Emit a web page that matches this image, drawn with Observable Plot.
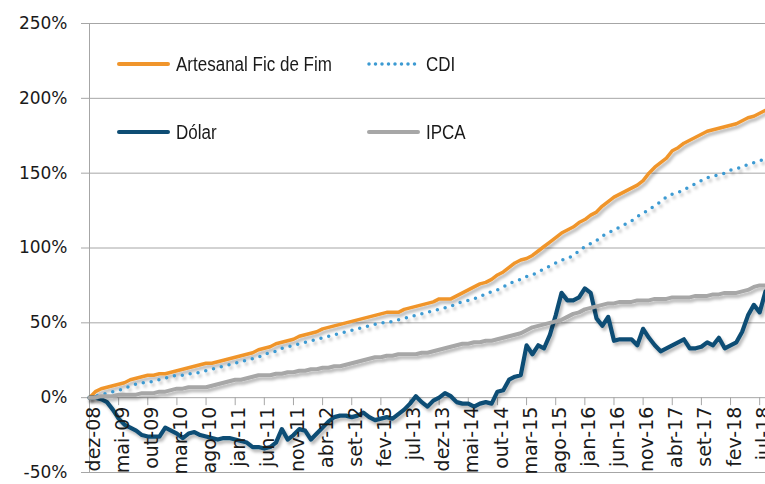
<!DOCTYPE html>
<html><head><meta charset="utf-8">
<script src="https://cdn.jsdelivr.net/npm/d3@7"></script>
<script src="https://cdn.jsdelivr.net/npm/@observablehq/plot@0.6"></script>
<style>
body{margin:0;background:#fff;}
#wrap{position:relative;width:765px;height:484px;overflow:hidden;background:#fff;}
.leg{position:absolute;display:flex;align-items:center;height:24px;font-family:"Liberation Sans",Arial,sans-serif;font-size:20px;color:#1a1a1a;white-space:nowrap;}
.leg svg{display:block;margin-right:6px;}
.leg span{display:inline-block;transform:scaleX(0.85);transform-origin:0 50%;}
</style></head><body><div id="wrap"></div>
<script>
// Monthly cumulative returns (%), dez-08 .. ago-18
const artesanal = [0,4,6,7,8,9,10,12,13,14,
15,15,16,16,17,18,19,20,21,22,
23,23,24,25,26,27,28,29,30,32,
33,34,36,37,38,39,41,42,43,44,
46,47,48,49,50,51,52,53,54,55,
56,57,57,57,59,60,61,62,63,64,
66,66,66,68,70,72,74,76,77,79,
82,84,87,90,92,93,95,98,101,104,
107,110,112,114,117,119,122,124,128,131,
134,136,138,140,142,145,150,154,157,160,
165,167,170,172,174,176,178,179,180,181,
182,183,185,187,188,190,192];
const cdi = [0,1,2,3,4,5,6,8,9,10,
10,11,12,13,14,15,15,16,16,17,
18,19,20,21,22,23,24,25,26,27,
29,30,31,33,34,35,36,37,38,39,
40,41,42,43,44,45,46,47,48,49,
50,50,51,52,53,54,55,56,57,58,
59,60,61,63,64,65,66,68,69,71,
72,74,76,78,79,81,82,84,86,88,
90,92,93,95,98,101,103,105,108,110,
112,114,116,118,121,123,126,128,131,134,
136,137,139,141,143,145,147,148,149,150,
152,153,154,156,157,158,160];
const dolar = [0,0,-1,-3,-8,-14,-18,-20,-22,-25,
-26,-26,-26,-20,-22,-24,-27,-24,-23,-25,
-26,-27,-28,-27,-27,-28,-29,-30,-33,-33,
-34,-33,-30,-21,-28,-25,-21,-22,-28,-24,
-20,-16,-13,-12,-12,-13,-12,-10,-13,-15,
-14,-13,-14,-11,-8,-4,1,-3,-6,-2,
0,3,1,-3,-4,-4,-6,-4,-3,-4,
4,5,12,14,15,35,29,35,33,42,
55,70,65,65,67,73,70,53,48,54,
38,39,39,39,35,46,40,35,31,33,
35,37,39,33,33,34,37,35,40,33,
35,37,44,55,62,57,71];
const ipca = [0,0,1,1,1,2,2,2,2,3,
3,3,4,4,5,6,6,7,7,7,
7,8,9,10,11,12,12,13,14,15,
15,15,16,16,17,17,18,18,19,19,
20,20,21,21,22,23,24,25,26,27,
27,28,28,29,29,29,29,30,30,31,
32,33,34,35,36,36,37,37,38,38,
39,40,41,42,43,45,47,48,49,50,
51,52,54,56,57,59,60,61,62,63,
63,64,64,64,65,65,65,66,66,66,
67,67,67,67,68,68,68,69,69,70,
70,70,71,72,74,75,75];

const seriesNames = ["Artesanal Fic de Fim", "CDI", "Dólar", "IPCA"];
const tickLabels = ["dez-08","mai-09","out-09","mar-10","ago-10","jan-11","jun-11","nov-11","abr-12","set-12","fev-13","jul-13","dez-13","mai-14","out-14","mar-15","ago-15","jan-16","jun-16","nov-16","abr-17","set-17","fev-18","jul-18"];
const yTicks = [-50, 0, 50, 100, 150, 200, 250];

const tickStep = 5; // months between category labels
const tickMonths = tickLabels.map((_, i) => i * tickStep);

const styles = [
  {color:"#F0952B", width:3.5, dash:null, cap:"round"},
  {color:"#3C9AD2", width:3.5, dash:"0 8", cap:"round"},
  {color:"#0E4D74", width:4.2, dash:null, cap:"round"},
  {color:"#A7A7A7", width:4, dash:null, cap:"round"}
];
const valuesList = [artesanal, cdi, dolar, ipca];
const grid = "#a6a6a6";

const lineMarks = valuesList.map((vals, k) => Plot.line(vals, {
  x: (d, i) => i, y: d => d,
  stroke: styles[k].color, strokeWidth: styles[k].width,
  strokeDasharray: styles[k].dash, strokeLinecap: styles[k].cap, strokeLinejoin: "round"
}));

const chart = Plot.plot({
  width: 765, height: 484,
  marginLeft: 89, marginRight: 0, marginTop: 23, marginBottom: 12,
  style: {fontFamily: "DejaVu Sans", fontSize: "17px", color: "#1a1a1a", background: "transparent"},
  x: {domain: [0, artesanal.length - 1], axis: null},
  y: {domain: [-50, 250], ticks: yTicks, tickFormat: d => d + "%", tickSize: 0, tickPadding: 22, label: null},
  marks: [
    Plot.ruleY(yTicks, {stroke: grid, strokeWidth: 1, insetLeft: -8}),
    Plot.ruleX([0], {stroke: grid, strokeWidth: 1}),
    Plot.ruleX(tickMonths, {y1: () => 0, y2: () => 0, insetBottom: -8, stroke: grid, strokeWidth: 1}),
    ...lineMarks,
    Plot.text(tickLabels, {
      x: (d, i) => tickMonths[i], y: () => 0, text: d => d,
      rotate: -90, textAnchor: "end", lineAnchor: "middle", dy: 9, dx: 4,
      fontSize: 19, fontFamily: "DejaVu Sans", fill: "#1a1a1a"
    })
  ]
});

const svg = d3.select(chart);
svg.append("defs").html('<filter id="sh" filterUnits="userSpaceOnUse" x="0" y="0" width="765" height="484"><feDropShadow dx="2" dy="3" stdDeviation="1.8" flood-color="#000" flood-opacity="0.28"/></filter>');
svg.selectAll('g[aria-label="line"]').attr("filter", "url(#sh)");

const wrap = document.getElementById("wrap");
wrap.appendChild(chart);

// Legend overlay (inside the plot area, two columns x two rows)
const legPos = [[117, 64], [367, 64], [117, 132], [367, 132]];
seriesNames.forEach((name, k) => {
  const div = document.createElement("div");
  div.className = "leg";
  div.style.left = legPos[k][0] + "px";
  div.style.top = (legPos[k][1] - 12) + "px";
  const s = styles[k];
  const dash = s.dash ? 'stroke-dasharray="0 6.5"' : '';
  div.innerHTML = `<svg width="53" height="24"><line x1="2" x2="51" y1="12" y2="12" stroke="${s.color}" stroke-width="${s.dash ? 3.5 : 4}" stroke-linecap="round" ${dash}/></svg><span>${name}</span>`;
  wrap.appendChild(div);
});
</script></body></html>
